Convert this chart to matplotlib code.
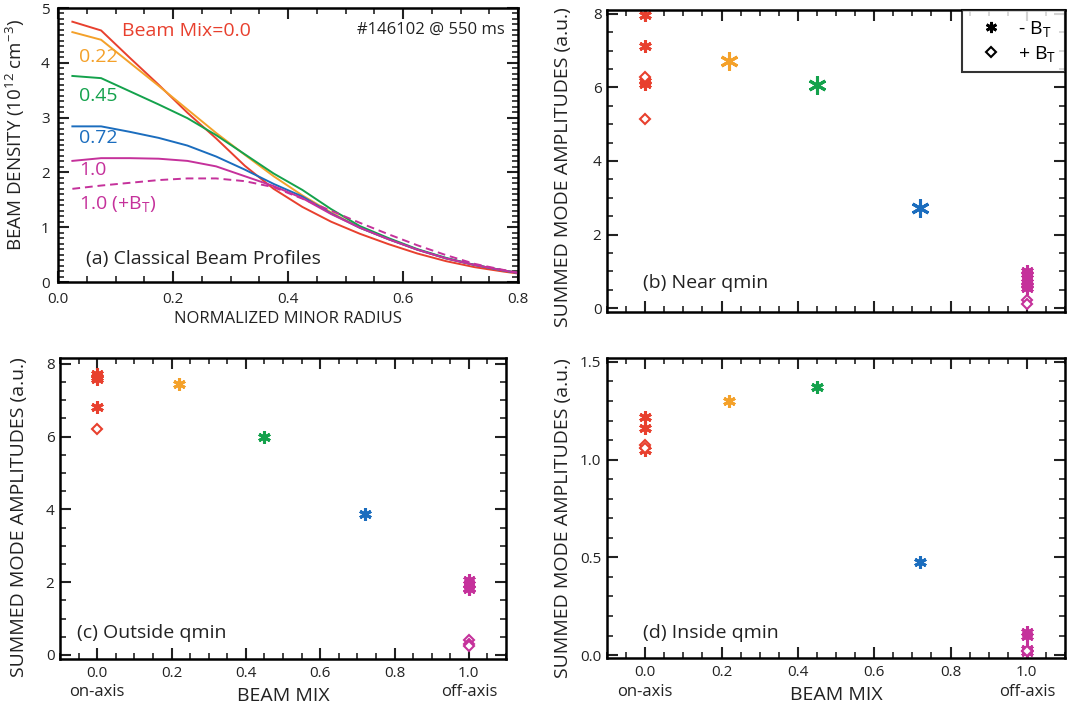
import matplotlib
matplotlib.use('Agg')
import matplotlib.pyplot as plt
from matplotlib.lines import Line2D
from matplotlib.ticker import MultipleLocator

plt.rcParams['font.family'] = ['Open Sans', 'DejaVu Sans']
plt.rcParams['mathtext.fontset'] = 'custom'
plt.rcParams['mathtext.rm'] = 'Open Sans'
plt.rcParams['mathtext.it'] = 'Open Sans'

# colours for each beam mix
c_red = '#E8402E'
c_orange = '#F4A12A'
c_green = '#14A24C'
c_blue = '#1B6DBE'
c_mag = '#C5319B'
txt = '#222222'

# (a) classical beam density profiles
rho = [0.025, 0.075, 0.125, 0.175, 0.225, 0.275, 0.325, 0.375, 0.425,
       0.475, 0.525, 0.575, 0.625, 0.675, 0.725, 0.775, 0.825]
dens_00 = [4.75, 4.59, 4.09, 3.60, 3.09, 2.62, 2.12, 1.70, 1.37,
           1.10, 0.88, 0.69, 0.52, 0.38, 0.27, 0.19, 0.12]
dens_22 = [4.56, 4.42, 4.00, 3.58, 3.15, 2.72, 2.32, 1.93, 1.58,
           1.27, 0.99, 0.78, 0.59, 0.43, 0.31, 0.21, 0.12]
dens_45 = [3.76, 3.72, 3.48, 3.24, 2.99, 2.68, 2.33, 1.98, 1.68,
           1.33, 1.02, 0.80, 0.60, 0.44, 0.31, 0.21, 0.12]
dens_72 = [2.84, 2.84, 2.74, 2.63, 2.49, 2.29, 2.05, 1.79, 1.56,
           1.25, 0.99, 0.78, 0.59, 0.43, 0.31, 0.21, 0.12]
dens_10 = [2.21, 2.26, 2.26, 2.25, 2.21, 2.11, 1.93, 1.75, 1.53,
           1.24, 0.99, 0.78, 0.59, 0.43, 0.31, 0.21, 0.12]
dens_10p = [1.70, 1.76, 1.81, 1.86, 1.89, 1.89, 1.84, 1.73, 1.52,
            1.30, 1.08, 0.87, 0.67, 0.49, 0.33, 0.22, 0.12]

# beam mix positions of the scatter points
mix = [0.0, 0.22, 0.45, 0.72, 1.0]
mix_colors = [c_red, c_orange, c_green, c_blue, c_mag]

# (b) near qmin: -BT asterisks and +BT diamonds per mix
b_neg = [[7.97, 7.12, 6.18, 6.10], [6.72], [6.07], [2.72],
         [1.02, 0.92, 0.82, 0.72, 0.62, 0.55]]
b_pos = [[6.28, 5.15], [], [], [], [0.22, 0.12]]
# (c) outside qmin
c_neg = [[7.72, 7.65, 7.58, 6.82], [7.45], [6.00], [3.88],
         [2.05, 1.95, 1.85, 1.80]]
c_pos = [[6.20], [], [], [], [0.42, 0.30, 0.25]]
# (d) inside qmin
d_neg = [[1.22, 1.16, 1.05], [1.30], [1.37], [0.475],
         [0.12, 0.10, 0.03, 0.015]]
d_pos = [[1.075, 1.06], [], [], [], [0.02]]

ast = (6, 2, 0)

fig = plt.figure(figsize=(10.69, 7.10), dpi=100)
W, H = 1069.0, 710.0


def box(l, r, t, b):
    return [l / W, 1 - b / H, (r - l) / W, (b - t) / H]


def style(ax):
    for s in ax.spines.values():
        s.set_linewidth(1.8)
    ax.tick_params(which='both', direction='in', top=True, right=True,
                   labelsize=11, colors=txt)
    ax.tick_params(which='major', length=8, width=1.5)
    ax.tick_params(which='minor', length=4, width=1.2)
    ax.tick_params(axis='x', pad=5)
    ax.tick_params(axis='y', pad=4)


ax_a = fig.add_axes(box(58, 518, 8, 282))
ax_b = fig.add_axes(box(607, 1065, 10, 312))
ax_c = fig.add_axes(box(60, 506, 358, 659))
ax_d = fig.add_axes(box(607, 1065, 358, 658))

# panel (a)
lw = 1.4
ax_a.plot(rho, dens_00, color=c_red, lw=lw)
ax_a.plot(rho, dens_22, color=c_orange, lw=lw)
ax_a.plot(rho, dens_45, color=c_green, lw=lw)
ax_a.plot(rho, dens_72, color=c_blue, lw=lw)
ax_a.plot(rho, dens_10, color=c_mag, lw=lw)
ax_a.plot(rho, dens_10p, color=c_mag, lw=lw, ls=(0, (4, 2.5)))
ax_a.set_xlim(0, 0.8)
ax_a.set_ylim(0, 5)
ax_a.set_xticks([0.0, 0.2, 0.4, 0.6, 0.8])
ax_a.set_xticklabels(['0.0', '0.2', '0.4', '0.6', '0.8'])
ax_a.xaxis.set_minor_locator(MultipleLocator(0.05))
ax_a.set_yticks([0, 1, 2, 3, 4, 5])
ax_a.yaxis.set_minor_locator(MultipleLocator(0.1))
style(ax_a)
ax_a.tick_params(axis='x', pad=7)
ax_a.tick_params(axis='y', pad=6)
ax_a.set_xlabel('NORMALIZED MINOR RADIUS', fontsize=12, color=txt, labelpad=3)
ax_a.set_ylabel('BEAM DENSITY (10$^{12}$ cm$^{-3}$)', fontsize=13.5, color=txt)
ax_a.yaxis.set_label_coords(-0.067, 0.537)

ta = dict(fontsize=14, va='center', ha='left')
ax_a.text(0.112, 4.58, 'Beam Mix=0.0', color=c_red, **ta)
ax_a.text(0.036, 4.11, '0.22', color=c_orange, **ta)
ax_a.text(0.036, 3.39, '0.45', color=c_green, **ta)
ax_a.text(0.036, 2.62, '0.72', color=c_blue, **ta)
ax_a.text(0.036, 2.04, '1.0', color=c_mag, **ta)
ax_a.text(0.036, 1.43, '1.0 (+B$_\\mathrm{T}$)', color=c_mag, **ta)
ax_a.text(0.777, 4.6, '#146102 @ 550 ms', color=txt, fontsize=12,
          ha='right', va='center')
ax_a.text(0.048, 0.42, '(a) Classical Beam Profiles', color=txt,
          fontsize=14, ha='left', va='center')


def scatter_panel(ax, neg, pos, big):
    for i in range(len(mix)):
        ms = 9
        if big and 0 < i < 4:
            ms = 13
        for v in neg[i]:
            ax.plot(mix[i], v, marker=ast, ms=ms, mew=2.2, color=mix_colors[i],
                    ls='none')
        for v in pos[i]:
            ax.plot(mix[i], v, marker='D', ms=5, mew=1.5, mfc='white',
                    mec=mix_colors[i], ls='none')
    ax.set_xlim(-0.1, 1.1)
    ax.set_xticks([0.0, 0.2, 0.4, 0.6, 0.8, 1.0])
    ax.set_xticklabels(['0.0', '0.2', '0.4', '0.6', '0.8', '1.0'])
    ax.xaxis.set_minor_locator(MultipleLocator(0.05))
    style(ax)
    ax.set_ylabel('SUMMED MODE AMPLITUDES (a.u.)', fontsize=14, color=txt)


def beam_mix_axis(ax, y_ends, y_label):
    tr = ax.get_xaxis_transform()
    ax.text(0.0, y_ends, 'on-axis', transform=tr, fontsize=12, color=txt,
            ha='center', va='center')
    ax.text(1.0, y_ends, 'off-axis', transform=tr, fontsize=12, color=txt,
            ha='center', va='center')
    ax.text(0.5, y_label, 'BEAM MIX', transform=ax.transAxes, fontsize=14,
            color=txt, ha='center', va='center')


# panel (b)
scatter_panel(ax_b, b_neg, b_pos, True)
ax_b.set_ylim(-0.1, 8.1)
ax_b.set_yticks([0, 2, 4, 6, 8])
ax_b.yaxis.set_minor_locator(MultipleLocator(0.5))
ax_b.tick_params(axis='x', labelbottom=False)
ax_b.yaxis.set_label_coords(-0.076, 0.48)
ax_b.text(0.079, 0.097, '(b) Near qmin', transform=ax_b.transAxes,
          fontsize=14, color=txt, va='center')
handles = [Line2D([], [], marker=ast, ms=8, mew=2, color='black', ls='none'),
           Line2D([], [], marker='D', ms=5, mew=1.5, mfc='white', mec='black', ls='none')]
leg = ax_b.legend(handles, ['- B$_\\mathrm{T}$', '+ B$_\\mathrm{T}$'], loc='upper right',
                  fontsize=14, frameon=True, fancybox=False, borderaxespad=0,
                  handletextpad=0.4, borderpad=0.45, labelspacing=0.25)
leg.get_frame().set_edgecolor('black')
leg.get_frame().set_linewidth(1.5)

# panel (c)
scatter_panel(ax_c, c_neg, c_pos, False)
ax_c.set_ylim(-0.11, 8.16)
ax_c.set_yticks([0, 2, 4, 6, 8])
ax_c.yaxis.set_minor_locator(MultipleLocator(0.5))
ax_c.yaxis.set_label_coords(-0.072, 0.47)
beam_mix_axis(ax_c, -0.11, -0.123)
ax_c.text(0.038, 0.086, '(c) Outside qmin', transform=ax_c.transAxes,
          fontsize=14, color=txt, va='center')

# panel (d)
scatter_panel(ax_d, d_neg, d_pos, False)
ax_d.set_ylim(-0.015, 1.52)
ax_d.set_yticks([0.0, 0.5, 1.0, 1.5])
ax_d.yaxis.set_minor_locator(MultipleLocator(0.1))
ax_d.yaxis.set_label_coords(-0.076, 0.465)
beam_mix_axis(ax_d, -0.112, -0.125)
ax_d.text(0.079, 0.083, '(d) Inside qmin', transform=ax_d.transAxes,
          fontsize=14, color=txt, va='center')

fig.savefig('out.png', dpi=100)
